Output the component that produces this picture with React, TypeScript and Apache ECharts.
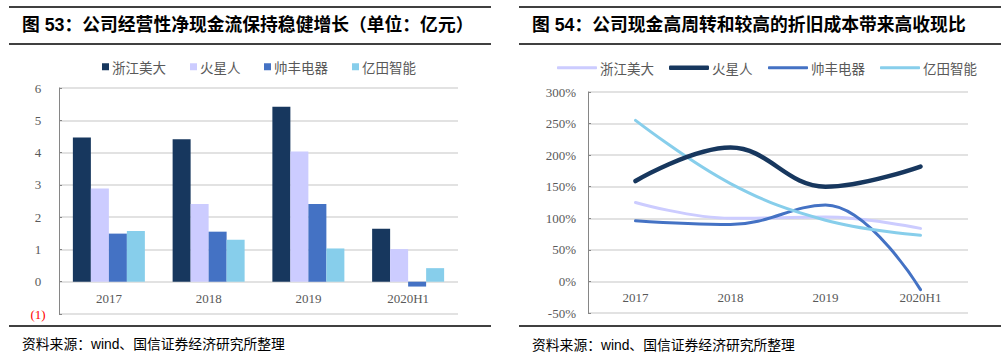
import React, { useEffect, useRef } from "react";
import * as echarts from "echarts";

const categories = ["2017", "2018", "2019", "2020H1"];
const companies = ["浙江美大", "火星人", "帅丰电器", "亿田智能"];
const barColors = ["#17375E", "#CCCCFF", "#4472C4", "#87CEEB"];
const lineColors = ["#CCCCFF", "#17375E", "#4472C4", "#87CEEB"];

// 图53：经营性净现金流（亿元）
const zjmdCash = [4.47, 4.41, 5.42, 1.64];
const hxrCash = [2.89, 2.41, 4.03, 1.01];
const sfdqCash = [1.49, 1.55, 2.41, -0.15];
const ytznCash = [1.57, 1.3, 1.03, 0.42];

// 图54：收现比（%）
const zjmdRatio = [125, 100, 102, 84];
const hxrRatio = [159, 212, 150, 182];
const sfdqRatio = [96, 90, 121, -13];
const ytznRatio = [255, 155, 97, 73];

const leftTitle = "图 53：公司经营性净现金流保持稳健增长（单位：亿元）";
const rightTitle = "图 54：公司现金高周转和较高的折旧成本带来高收现比";
const sourceText = "资料来源：wind、国信证券经济研究所整理";

const cashData = [zjmdCash, hxrCash, sfdqCash, ytznCash];
const ratioData = [zjmdRatio, hxrRatio, sfdqRatio, ytznRatio];

const SERIF = "'Liberation Serif', 'Times New Roman', serif";
const CJK = "'Noto Sans CJK SC', sans-serif";
const TITLE_FONT = "'Liberation Sans', Arial, 'Noto Sans CJK SC', sans-serif";

export default function App() {
  const ref = useRef<HTMLDivElement>(null);

  useEffect(() => {
    if (!ref.current) return;
    const chart = echarts.init(ref.current, undefined, { renderer: "svg" });

    const leftLegendX = [97, 185, 259, 347];
    const rightLegendX = [552, 664, 763, 875];
    const lineWidths = [3, 4.5, 3, 3];

    const legends: any[] = [];
    companies.forEach((name, i) => {
      legends.push({
        data: [name],
        left: leftLegendX[i],
        top: 55,
        icon: "rect",
        itemWidth: 7,
        itemHeight: 7,
        itemGap: 0,
        selectedMode: false,
        itemStyle: { borderWidth: 0, color: barColors[i] },
        textStyle: { fontFamily: CJK, fontSize: 13.5, color: "#595959", padding: [0, 0, 0, -2] },
      });
      legends.push({
        data: [name],
        left: rightLegendX[i],
        top: 56,
        icon: "roundRect",
        itemWidth: 40,
        itemHeight: lineWidths[i],
        itemGap: 0,
        selectedMode: false,
        itemStyle: { borderWidth: 0, color: lineColors[i] },
        textStyle: { fontFamily: CJK, fontSize: 13.5, color: "#595959", padding: [0, 0, 0, -2] },
      });
    });

    const hLine = (x1: number, x2: number, y: number) => ({
      type: "line",
      shape: { x1, y1: y, x2, y2: y },
      style: { stroke: "#000", lineWidth: 1.3 },
      silent: true,
    });

    const text = (t: string, x: number, y: number, size: number, bold: boolean) => ({
      type: "text",
      x,
      y,
      style: {
        text: t,
        fontSize: size,
        fontWeight: bold ? "bold" : "normal",
        fontFamily: TITLE_FONT,
        fill: "#000",
        verticalAlign: "middle",
        align: "left",
      },
      silent: true,
    });

    const splitLine = { show: true, lineStyle: { color: "#D9D9D9", width: 1.5 } };
    const xAxisBase = {
      type: "category",
      data: categories,
      position: "bottom",
      axisLine: { show: false, onZero: false },
      axisTick: { show: false },
      axisLabel: { fontFamily: SERIF, fontSize: 13, color: "#595959", margin: 10 },
    };

    chart.setOption({
      animation: false,
      backgroundColor: "#fff",
      legend: legends,
      grid: [
        { left: 59, top: 88, width: 399, height: 226, containLabel: false },
        { left: 588, top: 92, width: 380, height: 221, containLabel: false },
      ],
      xAxis: [
        // labels sit just below the zero line (one unit above the grid bottom)
        { ...xAxisBase, gridIndex: 0, offset: -226 / 7 },
        { ...xAxisBase, gridIndex: 1, offset: -221 / 7 },
      ],
      yAxis: [
        {
          type: "value",
          gridIndex: 0,
          min: -1,
          max: 6,
          interval: 1,
          axisLine: { show: true, lineStyle: { color: "#868686", width: 1 } },
          axisTick: { show: true, inside: true, length: 3, lineStyle: { color: "#868686" } },
          splitLine,
          axisLabel: {
            fontFamily: SERIF,
            fontSize: 13,
            color: "#595959",
            align: "center",
            margin: 21,
            formatter: (v: number) => (v < 0 ? `{neg|(${Math.abs(v)})}` : String(v)),
            rich: { neg: { color: "#FF0000", fontFamily: SERIF, fontSize: 13 } },
          },
        },
        {
          type: "value",
          gridIndex: 1,
          min: -50,
          max: 300,
          interval: 50,
          axisLine: { show: true, lineStyle: { color: "#868686", width: 1 } },
          axisTick: { show: true, inside: true, length: 3, lineStyle: { color: "#868686" } },
          splitLine,
          axisLabel: {
            fontFamily: SERIF,
            fontSize: 13,
            color: "#595959",
            margin: 12,
            formatter: (v: number) => `${v}%`,
          },
        },
      ],
      series: [
        ...companies.map((name, i) => ({
          name,
          type: "bar",
          xAxisIndex: 0,
          yAxisIndex: 0,
          data: cashData[i],
          barWidth: 18,
          barGap: "0%",
          itemStyle: { color: barColors[i], borderWidth: 0 },
        })),
        ...companies.map((name, i) => ({
          name,
          type: "line",
          xAxisIndex: 1,
          yAxisIndex: 1,
          data: ratioData[i],
          smooth: 0.4,
          symbol: "none",
          itemStyle: { color: lineColors[i] },
          lineStyle: { color: lineColors[i], width: lineWidths[i], cap: "round" },
          z: i === 1 ? 3 : 2,
        })),
      ],
      graphic: [
        hLine(9, 491, 7),
        hLine(9, 491, 44),
        hLine(9, 491, 326),
        hLine(519, 1001, 7),
        hLine(519, 1001, 44),
        hLine(519, 1001, 326),
        text(leftTitle, 22, 25, 17.8, true),
        text(rightTitle, 532, 25, 17.8, true),
        text(sourceText, 22, 344, 13.8, false),
        text(sourceText, 532, 345, 13.8, false),
      ],
    });

    return () => chart.dispose();
  }, []);

  return (
    <div
      ref={ref}
      style={{ position: "absolute", left: 0, top: 0, width: 1006, height: 356, background: "#fff" }}
    />
  );
}
